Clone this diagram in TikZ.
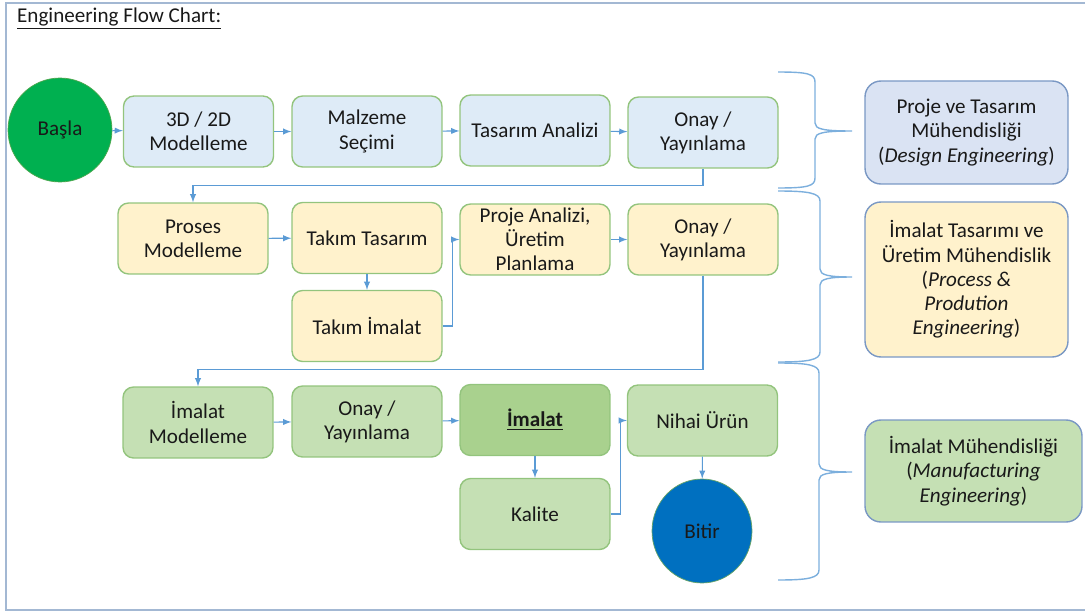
\documentclass[tikz,border=0pt]{standalone}
\usepackage{fontspec}
\setmainfont{Carlito}
\usepackage{tikz}
\usepackage{xcolor}
\usetikzlibrary{arrows, calc, positioning, shapes.geometric}

\definecolor{arrblue}{HTML}{5B9BD5}
\definecolor{boxgreen}{HTML}{93C47D}
\definecolor{fillblue}{HTML}{DEEBF7}
\definecolor{fillyellow}{HTML}{FFF2CC}
\definecolor{fillgreen}{HTML}{C5E0B4}
\definecolor{filldark}{HTML}{A9D18E}
\definecolor{grpborder}{HTML}{7A98C4}
\definecolor{grpblue}{HTML}{DAE3F3}
\definecolor{framec}{HTML}{A3B8D3}

\begin{document}
\begin{tikzpicture}[x=0.02cm, y=-0.02cm,
    every node/.style={font=\fontsize{12pt}{13.8pt}\selectfont, align=center, text=black!90},
    box/.style={draw=boxgreen, line width=0.8pt, rounded corners=6pt, minimum width=3cm, minimum height=1.42cm, inner sep=1pt},
    grp/.style={draw=grpborder, line width=0.8pt, rounded corners=9pt, minimum width=4.06cm, inner sep=1pt},
    arr/.style={draw=arrblue, line width=0.6pt, -latex},
    brc/.style={draw=arrblue!80, line width=0.8pt}]
    \useasboundingbox (0,0) rectangle (1085,612);
    \draw[framec, line width=1pt] (1085,3) -- (6,3) -- (6,610) -- (1085,610);
    \node[anchor=west] (title) at (11,19) {\underline{Engineering Flow Chart:}};

    % design row
    \node[circle, draw=green!50!black!70, fill={rgb,255:red,0;green,176;blue,80}, minimum size=2.08cm, inner sep=0pt] (basla) at (60,130) {Başla};
    \node[box, fill=fillblue] (model) at (198.5,131.5) {3D / 2D\\Modelleme};
    \node[box, fill=fillblue] (malzeme) at (367,131.5) {Malzeme\\Seçimi};
    \node[box, fill=fillblue] (analiz) at (535,130.5) {Tasarım Analizi};
    \node[box, fill=fillblue] (onay1) at (703,132.5) {Onay /\\Yayınlama};

    % process row
    \node[box, fill=fillyellow] (proses) at (193,238.5) {Proses\\Modelleme};
    \node[box, fill=fillyellow] (taktas) at (367,238) {Takım Tasarım};
    \node[box, fill=fillyellow] (takima) at (367,326) {Takım İmalat};
    \node[box, fill=fillyellow] (planla) at (535,239.5) {Proje Analizi,\\Üretim\\Planlama};
    \node[box, fill=fillyellow] (onay2) at (703,239.5) {Onay /\\Yayınlama};

    % manufacturing row
    \node[box, fill=fillgreen] (imodel) at (198,422.5) {İmalat\\Modelleme};
    \node[box, fill=fillgreen] (onay3) at (367,421.5) {Onay /\\Yayınlama};
    \node[box, fill=filldark] (imalat) at (535,420) {\textbf{\underline{İmalat}}};
    \node[box, fill=fillgreen] (kalite) at (535,514) {Kalite};
    \node[box, fill=fillgreen] (nihai) at (702.5,420.5) {Nihai Ürün};
    \node[ellipse, draw=green!40!black!60, fill={rgb,255:red,0;green,112;blue,192}, minimum width=2cm, minimum height=2.08cm, inner sep=0pt] (bitir) at (702,531) {Bitir};

    % groups
    \node[grp, fill=grpblue, minimum height=2.06cm] (design) at (966.5,132.5) {Proje ve Tasarım\\Mühendisliği\\(\textit{Design Engineering})};
    \node[grp, fill=fillyellow, minimum height=3.1cm] (process) at (966.5,279.5) {İmalat Tasarımı ve\\Üretim Mühendislik\\(\textit{Process \&}\\\textit{Prodution}\\\textit{Engineering})};
    \node[grp, fill=fillgreen, minimum width=4.34cm, minimum height=2.04cm] (manuf) at (973.5,471) {İmalat Mühendisliği\\(\textit{Manufacturing}\\\textit{Engineering})};

    \draw
    (basla) edge[arr] (model)
    (model) edge[arr] (malzeme)
    (malzeme) edge[arr] (analiz)
    (analiz) edge[arr] (onay1)
    (proses) edge[arr] (taktas)
    (taktas) edge[arr] (takima)
    (planla) edge[arr] (onay2)
    (imodel) edge[arr] (onay3)
    (onay3) edge[arr] (imalat)
    (imalat) edge[arr] (kalite)
    (nihai) edge[arr] (bitir);
    \draw[arr] (onay1.south) -- ++(0,17) -| (proses.north);
    \draw[arr] (takima.east) -- ++(10,0) |- (planla.west);
    \draw[arr] (onay2.south) -- ++(0,94) -| (imodel.north);
    \draw[arr] (kalite.east) -- ++(10,0) |- (nihai.west);

    % braces
    \foreach \yt/\yb/\ym/\xv in {72/188/131/815, 191/362/277/820, 363/580/472/819}
        \draw[brc] (778,\yt) .. controls (808,\yt) and (\xv,\yt+2) .. (\xv,\yt+10) -- (\xv,\ym-8)
            .. controls (\xv,\ym-2) and (\xv+8,\ym) .. (852,\ym)
            .. controls (\xv+8,\ym) and (\xv,\ym+2) .. (\xv,\ym+8) -- (\xv,\yb-10)
            .. controls (\xv,\yb-2) and (808,\yb) .. (778,\yb);
\end{tikzpicture}
\end{document}
